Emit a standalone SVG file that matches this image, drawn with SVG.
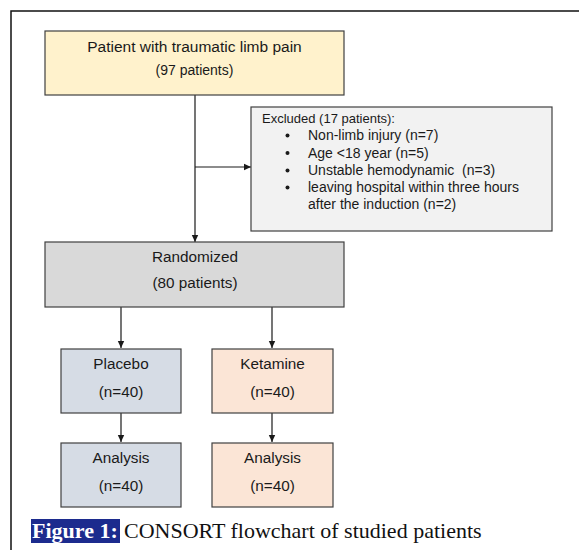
<svg xmlns="http://www.w3.org/2000/svg" width="579" height="550" viewBox="0 0 579 550">
<defs>
<style>
.box{stroke:#404040;stroke-width:1.2}
.t{font-family:"Liberation Sans",Arial,sans-serif;fill:#1a1a1a;text-anchor:middle}
.l{font-family:"Liberation Sans",Arial,sans-serif;fill:#1a1a1a}
.c{stroke:#1a1a1a;stroke-width:1.2;fill:none}
.cap{font-family:"Liberation Serif","Times New Roman",serif;font-size:22px}
.b{fill:#1a1a1a}
</style>
<marker id="ah" markerWidth="8" markerHeight="8" refX="7" refY="4" orient="auto" markerUnits="userSpaceOnUse">
<path d="M0,0.8 L7,4 L0,7.2 Z" fill="#1a1a1a"/>
</marker>
</defs>
<rect width="579" height="550" fill="#ffffff"/>
<path d="M11,551 V11 H580" fill="none" stroke="#111" stroke-width="1.5"/>

<g id="connectors">
<path class="c" d="M195,95 V242" marker-end="url(#ah)"/>
<path class="c" d="M195,167 H251" marker-end="url(#ah)"/>
<path class="c" d="M121,307 V348" marker-end="url(#ah)"/>
<path class="c" d="M272,307 V348" marker-end="url(#ah)"/>
<path class="c" d="M121,413 V442" marker-end="url(#ah)"/>
<path class="c" d="M272,413 V442" marker-end="url(#ah)"/>
</g>

<g id="patients">
<rect class="box" x="45" y="31" width="299" height="64" fill="#fff2cc"/>
<text class="t" x="194.5" y="52" font-size="15.5">Patient with traumatic limb pain</text>
<text class="t" x="194.5" y="75" font-size="14">(97 patients)</text>
</g>

<g id="excluded">
<rect class="box" x="251" y="107" width="301" height="124" fill="#f2f2f2"/>
<text class="l" x="262" y="123" font-size="13">Excluded (17 patients):</text>
<circle class="b" cx="287.5" cy="135.5" r="2"/>
<circle class="b" cx="287.5" cy="153" r="2"/>
<circle class="b" cx="287.5" cy="170.5" r="2"/>
<circle class="b" cx="287.5" cy="187.5" r="2"/>
<g font-size="14" class="l">
<text x="308" y="140">Non-limb injury (n=7)</text>
<text x="308" y="157.5">Age &lt;18 year (n=5)</text>
<text x="308" y="175" xml:space="preserve">Unstable hemodynamic  (n=3)</text>
<text x="308" y="192">leaving hospital within three hours</text>
<text x="308" y="209">after the induction (n=2)</text>
</g>
</g>

<g id="randomized">
<rect class="box" x="45" y="242" width="299" height="65" fill="#d9d9d9"/>
<text class="t" x="195" y="262" font-size="15.3">Randomized</text>
<text class="t" x="195" y="288" font-size="15.3">(80 patients)</text>
</g>

<g id="placebo">
<rect class="box" x="61" y="349" width="120" height="64" fill="#d6dce5"/>
<text class="t" x="121" y="369" font-size="15.3">Placebo</text>
<text class="t" x="121" y="397" font-size="15.3">(n=40)</text>
</g>

<g id="ketamine">
<rect class="box" x="212" y="349" width="121" height="64" fill="#fbe5d6"/>
<text class="t" x="272.5" y="369" font-size="15.3">Ketamine</text>
<text class="t" x="272.5" y="397" font-size="15.3">(n=40)</text>
</g>

<g id="analysis-placebo">
<rect class="box" x="61" y="443" width="120" height="64" fill="#d6dce5"/>
<text class="t" x="121" y="463" font-size="15.3">Analysis</text>
<text class="t" x="121" y="491" font-size="15.3">(n=40)</text>
</g>

<g id="analysis-ketamine">
<rect class="box" x="212" y="443" width="121" height="64" fill="#fbe5d6"/>
<text class="t" x="272.5" y="463" font-size="15.3">Analysis</text>
<text class="t" x="272.5" y="491" font-size="15.3">(n=40)</text>
</g>

<g id="caption">
<rect x="31" y="519" width="89" height="24" fill="#1c2b8e"/>
<text class="cap" x="32" y="538" font-weight="bold" fill="#ffffff">Figure 1:</text>
<text class="cap" x="124" y="538" fill="#111">CONSORT flowchart of studied patients</text>
</g>
</svg>
